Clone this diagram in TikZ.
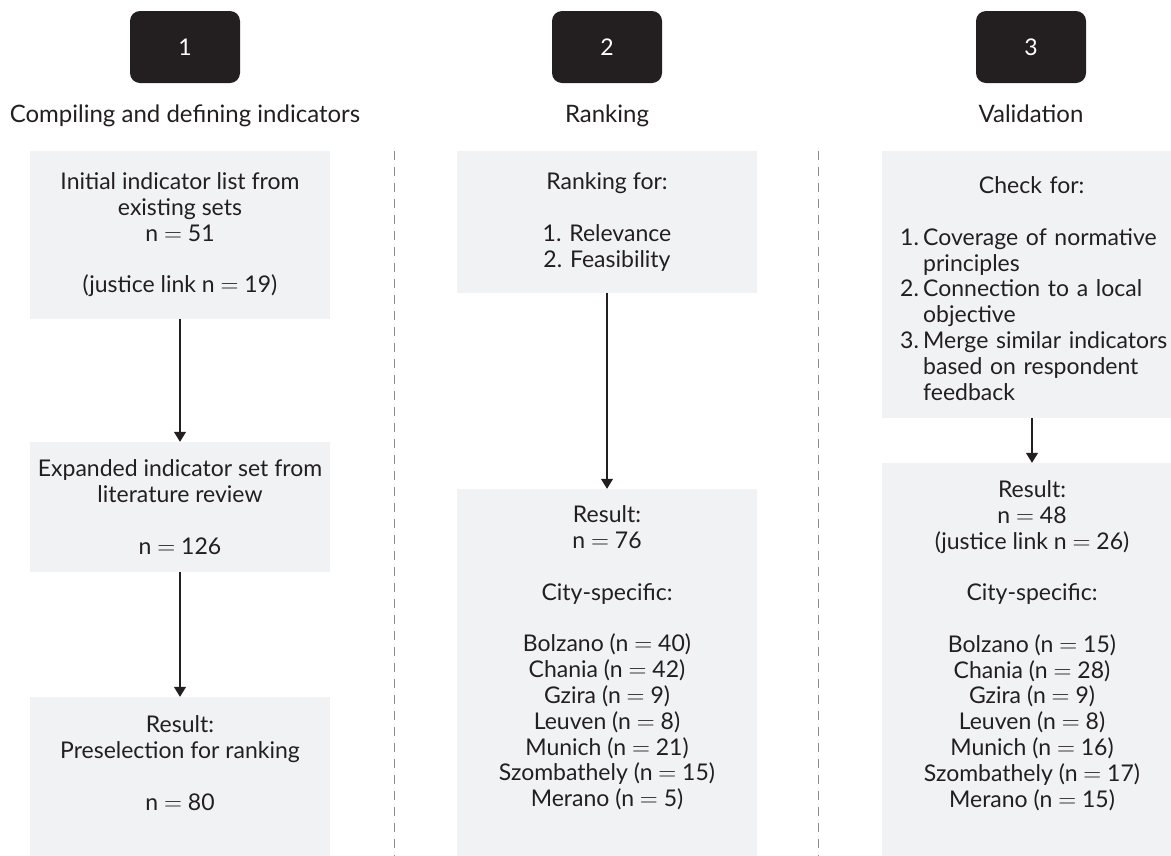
\documentclass[tikz,border=0pt]{standalone}
\usepackage{fontspec}
\setmainfont{Lato}
\usetikzlibrary{arrows.meta}
\definecolor{ink}{HTML}{231F20}
\definecolor{boxfill}{HTML}{F1F2F4}
\definecolor{sepgray}{HTML}{8A8A8A}
\newcommand\eqsign{$=$}
\begin{document}
\begin{tikzpicture}[x=1pt,y=-1pt,
  numbox/.style={fill=ink, rounded corners=10pt, minimum width=110pt, minimum height=72pt, text=white, inner sep=0pt, font=\fontsize{23}{26}\selectfont},
  titlelbl/.style={text=ink, inner sep=0pt, anchor=base, font=\fontsize{24}{26}\selectfont},
  panel/.style={fill=boxfill, minimum width=300pt, inner sep=0pt, text=ink, align=center, font=\fontsize{23}{25.8}\selectfont},
  ptext/.style={inner sep=0pt, text=ink, align=center, font=\fontsize{23}{25.8}\selectfont},
  flow/.style={draw=ink, line width=1.2pt, -{Triangle[width=12pt,length=10pt]}},
  sepline/.style={draw=sepgray, line width=1pt, dash pattern=on 9pt off 7pt}
]
\useasboundingbox (0,0) rectangle (1171,855);
\clip (0,0) rectangle (1171,855);

% step badges and titles
\node[numbox] (n1) at (185,47) {1};
\node[numbox] (n2) at (607,47) {2};
\node[numbox] (n3) at (1031,47) {3};
\node[titlelbl] (t1) at (185,122) {Compiling and defining indicators};
\node[titlelbl] (t2) at (607,122) {Ranking};
\node[titlelbl] (t3) at (1031,122) {Validation};

% separators
\draw[sepline] (394,151) -- (394,860);
\draw[sepline] (818,151) -- (818,860);

% column 1
\node[panel, minimum height=168pt] (c1a) at (180,235) {Initial indicator list from\\existing sets\\n \eqsign{} 51\\~\\(justice link n \eqsign{} 19)};
\node[panel, minimum height=130pt] (c1b) at (180,507) {Expanded indicator set from\\literature review\\~\\n \eqsign{} 126};
\node[panel, minimum height=173pt] (c1c) at (180,783.5) {};
\node[ptext] (c1ct) at (180,763) {Result:\\Preselection for ranking\\~\\n \eqsign{} 80};

% column 2
\node[panel, minimum height=142pt] (c2a) at (607,222) {Ranking for:\\~\\1. Relevance\\2. Feasibility};
\node[panel, minimum height=381pt] (c2b) at (607,679.5) {};
\node[ptext] (c2bt) at (607,658) {Result:\\n \eqsign{} 76\\~\\City-specific:\\~\\Bolzano (n \eqsign{} 40)\\Chania (n \eqsign{} 42)\\Gzira (n \eqsign{} 9)\\Leuven (n \eqsign{} 8)\\Munich (n \eqsign{} 21)\\Szombathely (n \eqsign{} 15)\\Merano (n \eqsign{} 5)};

% column 3
\node[panel, minimum height=267pt] (c3a) at (1032,284.5) {};
\node[ptext, align=left, text width=285pt, anchor=west] (c3at) at (900,288.5) {\makebox[263pt][c]{Check for:}\\~\\
\makebox[23pt][l]{1.}Coverage of normative\\
\hspace*{23pt}principles\\
\makebox[23pt][l]{2.}Connection to a local\\
\hspace*{23pt}objective\\
\makebox[23pt][l]{3.}Merge similar indicators\\
\hspace*{23pt}based on respondent\\
\hspace*{23pt}feedback};
\node[panel, minimum height=407pt] (c3b) at (1032,666.5) {};
\node[ptext] (c3bt) at (1032,645.5) {Result:\\n \eqsign{} 48\\(justice link n \eqsign{} 26)\\~\\City-specific:\\~\\Bolzano (n \eqsign{} 15)\\Chania (n \eqsign{} 28)\\Gzira (n \eqsign{} 9)\\Leuven (n \eqsign{} 8)\\Munich (n \eqsign{} 16)\\Szombathely (n \eqsign{} 17)\\Merano (n \eqsign{} 15)};

% connectors
\draw[flow] (c1a) -- (c1b);
\draw[flow] (c1b) -- (c1c);
\draw[flow] (c2a) -- (c2b);
\draw[flow] (c3a) -- (c3b);
\end{tikzpicture}
\end{document}
